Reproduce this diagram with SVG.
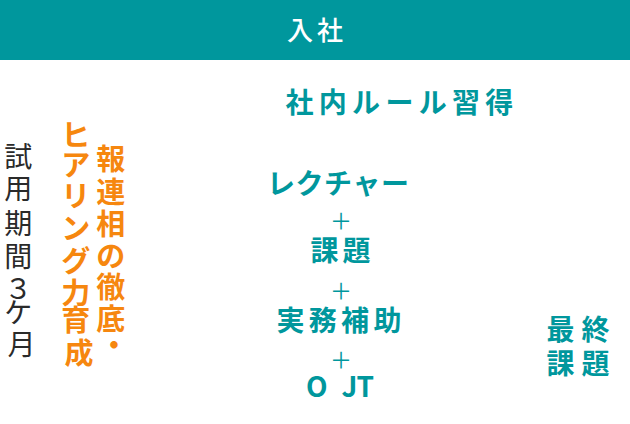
<svg xmlns="http://www.w3.org/2000/svg" width="630" height="424" viewBox="0 0 630 424">
<style>
  text { font-family: "Noto Sans CJK JP", "Noto Sans", sans-serif; }
  .hdr { fill: #ffffff; font-size: 26px; font-weight: 500; }
  .teal { fill: #00979d; font-size: 28px; font-weight: 700; }
  .plus { fill: #00979d; font-size: 22px; font-weight: 400; text-anchor: middle; }
  .orange { fill: #f6870f; font-size: 29px; font-weight: 700; text-anchor: middle; }
  .gray { fill: #2a2a2a; font-size: 28px; font-weight: 400; text-anchor: middle; }
</style>
<rect x="0" y="0" width="630" height="60" fill="#00979d"/>
<g id="nyusha">
  <text class="hdr" x="287 317" y="40">入社</text>
</g>
<g id="shanai-rule">
  <text class="teal" x="285.5 318.8 352 385.5 418.7 452 485.3" y="113.2">社内ルール習得</text>
</g>
<g id="shiyou-kikan">
  <text class="gray">
    <tspan x="21.5" y="167">試</tspan>
    <tspan x="21.5" y="199">用</tspan>
    <tspan x="21.5" y="234">期</tspan>
    <tspan x="21.5" y="267">間</tspan>
    <tspan x="21.5" y="298.5">３</tspan>
    <tspan x="21.5" y="323">ケ</tspan>
    <tspan x="21.5" y="355">月</tspan>
  </text>
</g>
<g id="hearing">
  <text class="orange">
    <tspan x="79" y="146">ヒ</tspan>
    <tspan x="79" y="176">ア</tspan>
    <tspan x="79" y="206.5">リ</tspan>
    <tspan x="79" y="239">ン</tspan>
    <tspan x="79" y="272">グ</tspan>
    <tspan x="79" y="304">力</tspan>
    <tspan x="79" y="331">育</tspan>
    <tspan x="79" y="363.5">成</tspan>
  </text>
</g>
<g id="horenso">
  <text class="orange">
    <tspan x="114" y="170">報</tspan>
    <tspan x="114" y="202.5">連</tspan>
    <tspan x="114" y="234.5">相</tspan>
    <tspan x="114" y="267">の</tspan>
    <tspan x="114" y="297.5">徹</tspan>
    <tspan x="114" y="329.5">底</tspan>
    <tspan x="114" y="356">・</tspan>
  </text>
</g>
<g id="lecture">
  <text class="teal" x="267 295.5 324 352.5 381" y="193.6">レクチャー</text>
</g>
<g id="kadai">
  <text class="teal" x="310.5 342.5" y="260.6">課題</text>
</g>
<g id="jitsumu">
  <text class="teal" x="276.5 308.8 341.1 373.5" y="331.1">実務補助</text>
</g>
<g id="ojt">
  <text class="teal" font-size="27" x="306 341.5 356.5" y="397">OJT</text>
</g>
<g id="saishu-kadai">
  <text class="teal" x="546.5 581.5" y="340.1">最終</text>
  <text class="teal" x="546.5 581.5" y="374.1">課題</text>
</g>
<g id="connectors">
  <text class="plus" x="341" y="229.4">＋</text>
  <text class="plus" x="341" y="299.4">＋</text>
  <text class="plus" x="341" y="368.4">＋</text>
</g>
</svg>
